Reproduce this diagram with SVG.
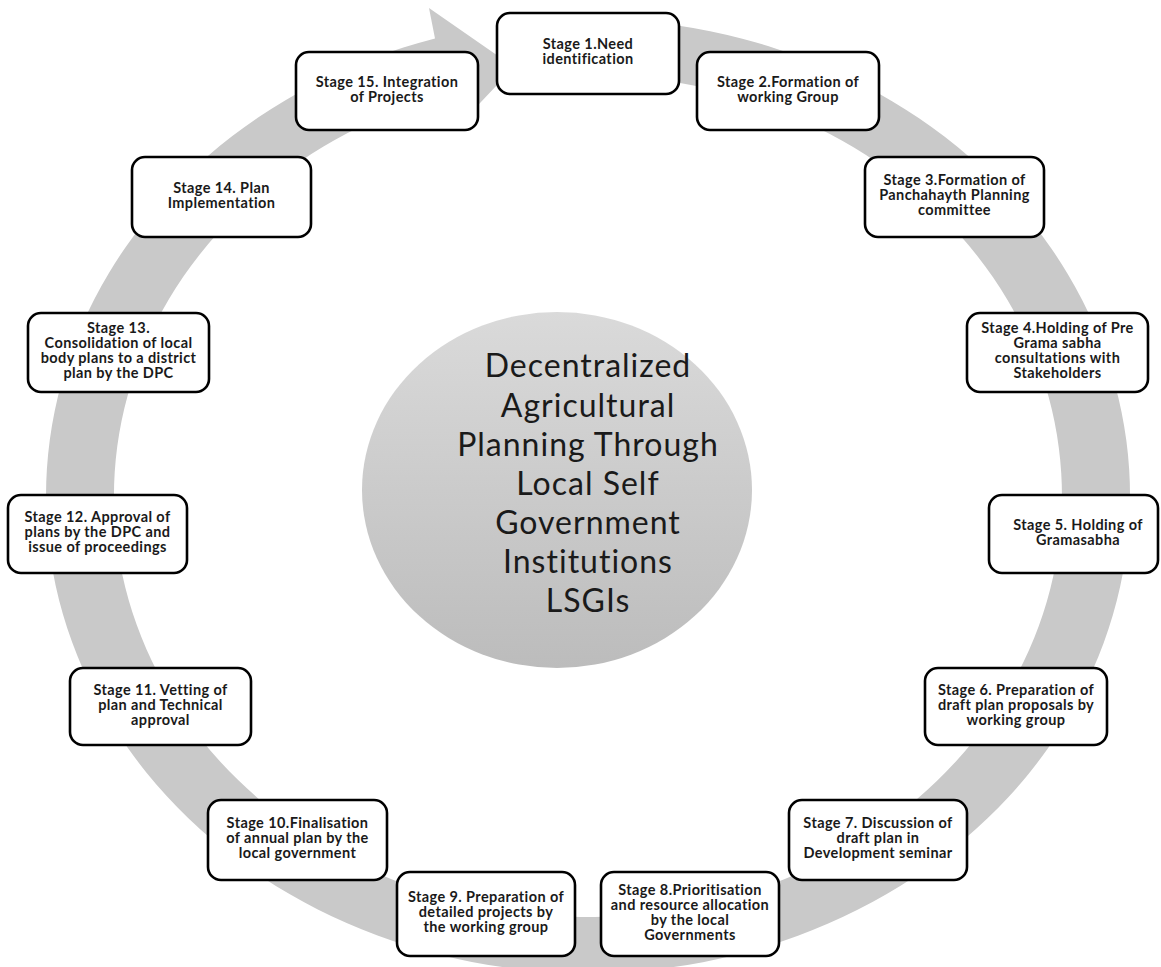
<svg xmlns="http://www.w3.org/2000/svg" width="1161" height="967" viewBox="0 0 1161 967">
<defs>
<linearGradient id="hub" x1="0" y1="0" x2="0" y2="1">
<stop offset="0" stop-color="#dadada"/>
<stop offset="1" stop-color="#bcbcbc"/>
</linearGradient>
<style>
.box{fill:#ffffff;stroke:#000000;stroke-width:2.6}
.lbl{font-family:Lato,"Open Sans","Liberation Sans",sans-serif;font-weight:bold;font-size:14.5px;letter-spacing:0.4px;fill:#1a1a1a;text-anchor:middle}
.hubt{font-family:Lato,"Open Sans","Liberation Sans",sans-serif;font-size:32px;letter-spacing:1px;fill:#1a1a1a;text-anchor:middle}
.ring{fill:#c9c9c9;stroke:none}
</style>
</defs>
<rect width="1161" height="967" fill="#ffffff"/>
<g id="connectors">
<path class="ring" d="M 644.6 21.6 A 542 477 0 1 1 435 38.4 L 429 8 L 514 67 L 464 120 L 454.2 92.1 A 474 421 0 1 0 637.5 77.3 Z"/>
</g>
<g id="hub-node">
<ellipse cx="557" cy="490" rx="195" ry="178" fill="url(#hub)"/>
<text class="hubt" x="588" y="377">Decentralized</text>
<text class="hubt" x="588" y="417">Agricultural</text>
<text class="hubt" x="588" y="456">Planning Through</text>
<text class="hubt" x="588" y="495">Local Self</text>
<text class="hubt" x="588" y="534">Government</text>
<text class="hubt" x="588" y="573">Institutions</text>
<text class="hubt" x="588" y="612">LSGIs</text>
</g>
<g id="stage1"><rect class="box" x="497" y="13" width="182" height="81" rx="13"/>
<text class="lbl" x="588" y="49">Stage 1.Need</text><text class="lbl" x="588" y="64">identification</text></g>
<g id="stage2"><rect class="box" x="697" y="52" width="182" height="78" rx="13"/>
<text class="lbl" x="788" y="86.5">Stage 2.Formation of</text><text class="lbl" x="788" y="101.5">working Group</text></g>
<g id="stage3"><rect class="box" x="865" y="157" width="179" height="80" rx="13"/>
<text class="lbl" x="954.5" y="185">Stage 3.Formation of</text><text class="lbl" x="954.5" y="200">Panchahayth Planning</text><text class="lbl" x="954.5" y="215">committee</text></g>
<g id="stage4"><rect class="box" x="967" y="313" width="181" height="79" rx="13"/>
<text class="lbl" x="1057.5" y="333">Stage 4.Holding of Pre</text><text class="lbl" x="1057.5" y="348">Grama sabha</text><text class="lbl" x="1057.5" y="363">consultations with</text><text class="lbl" x="1057.5" y="378">Stakeholders</text></g>
<g id="stage5"><rect class="box" x="989" y="495" width="169" height="78" rx="13"/>
<text class="lbl" x="1078" y="529.5">Stage 5. Holding of</text><text class="lbl" x="1078" y="544.5">Gramasabha</text></g>
<g id="stage6"><rect class="box" x="925" y="668" width="182" height="77" rx="13"/>
<text class="lbl" x="1016" y="694.5">Stage 6. Preparation of</text><text class="lbl" x="1016" y="709.5">draft plan proposals by</text><text class="lbl" x="1016" y="724.5">working group</text></g>
<g id="stage7"><rect class="box" x="789" y="800" width="178" height="80" rx="13"/>
<text class="lbl" x="878" y="828">Stage 7. Discussion of</text><text class="lbl" x="878" y="843">draft plan in</text><text class="lbl" x="878" y="858">Development seminar</text></g>
<g id="stage8"><rect class="box" x="601" y="872" width="178" height="84" rx="13"/>
<text class="lbl" x="690" y="894.5">Stage 8.Prioritisation</text><text class="lbl" x="690" y="909.5">and resource allocation</text><text class="lbl" x="690" y="924.5">by the local</text><text class="lbl" x="690" y="939.5">Governments</text></g>
<g id="stage9"><rect class="box" x="397" y="872" width="178" height="84" rx="13"/>
<text class="lbl" x="486" y="902">Stage 9. Preparation of</text><text class="lbl" x="486" y="917">detailed projects by</text><text class="lbl" x="486" y="932">the working group</text></g>
<g id="stage10"><rect class="box" x="208" y="800" width="179" height="80" rx="13"/>
<text class="lbl" x="297.5" y="828">Stage 10.Finalisation</text><text class="lbl" x="297.5" y="843">of annual plan by the</text><text class="lbl" x="297.5" y="858">local government</text></g>
<g id="stage11"><rect class="box" x="70" y="668" width="181" height="77" rx="13"/>
<text class="lbl" x="160.5" y="694.5">Stage 11. Vetting of</text><text class="lbl" x="160.5" y="709.5">plan and Technical</text><text class="lbl" x="160.5" y="724.5">approval</text></g>
<g id="stage12"><rect class="box" x="8" y="495" width="179" height="78" rx="13"/>
<text class="lbl" x="97.5" y="522">Stage 12. Approval of</text><text class="lbl" x="97.5" y="537">plans by the DPC and</text><text class="lbl" x="97.5" y="552">issue of proceedings</text></g>
<g id="stage13"><rect class="box" x="28" y="313" width="181" height="79" rx="13"/>
<text class="lbl" x="118.5" y="333">Stage 13.</text><text class="lbl" x="118.5" y="348">Consolidation of local</text><text class="lbl" x="118.5" y="363">body plans to a district</text><text class="lbl" x="118.5" y="378">plan by the DPC</text></g>
<g id="stage14"><rect class="box" x="132" y="157" width="179" height="80" rx="13"/>
<text class="lbl" x="221.5" y="192.5">Stage 14. Plan</text><text class="lbl" x="221.5" y="207.5">Implementation</text></g>
<g id="stage15"><rect class="box" x="296" y="52" width="182" height="78" rx="13"/>
<text class="lbl" x="387" y="86.5">Stage 15. Integration</text><text class="lbl" x="387" y="101.5">of Projects</text></g>
</svg>
